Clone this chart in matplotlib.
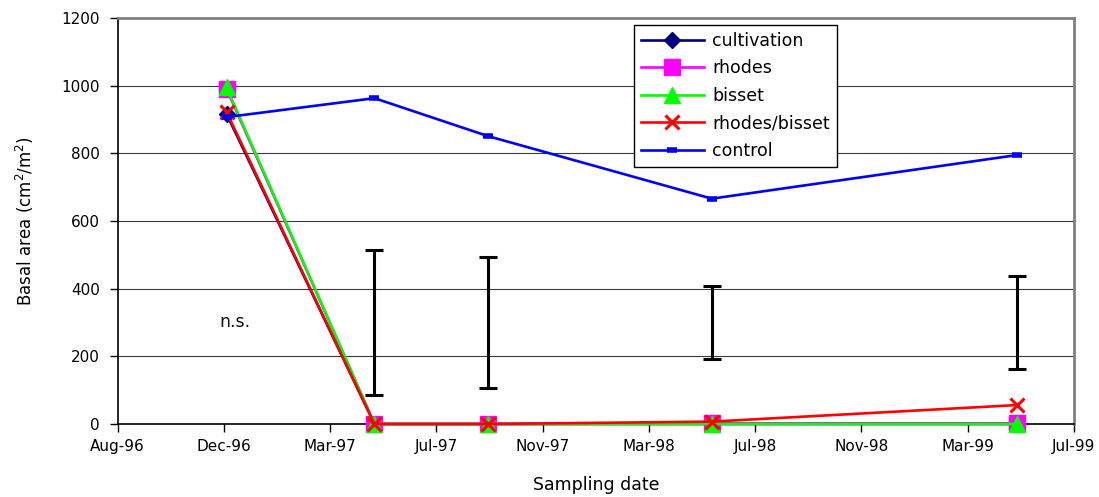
import numpy as np
import matplotlib
matplotlib.use("Agg")
import matplotlib.pyplot as plt
import matplotlib.dates as mdates

# ---- data ----
sample_dates = ["1996-12-03", "1997-05-19", "1997-09-24", "1998-06-04", "1999-05-15"]
cultivation = [916, 0, 0, 0, 0]
rhodes = [990, 0, 0, 2, 2]
bisset = [995, 0, 0, 0, 0]
rhodes_bisset = [922, 0, 0, 7, 56]
control = [907, 963, 851, 666, 795]

lsd_dates = ["1997-05-19", "1997-09-24", "1998-06-04", "1999-05-15"]
lsd_center = [300, 300, 300, 300]
lsd_half = [214, 195, 108, 137]

axis_start = "1996-08-02"
tick_step_days = 120
tick_labels = ["Aug-96", "Dec-96", "Mar-97", "Jul-97", "Nov-97",
               "Mar-98", "Jul-98", "Nov-98", "Mar-99", "Jul-99"]

plt.rcParams['font.family'] = ['DejaVu Sans']

x = mdates.datestr2num(sample_dates)
xl = mdates.datestr2num(lsd_dates)
x0 = mdates.datestr2num(axis_start)
ticks = x0 + tick_step_days * np.arange(len(tick_labels))

fig = plt.figure(figsize=(10.99, 4.97), dpi=100)
ax = fig.add_axes([0.1071, 0.1469, 0.8701, 0.8169])

ax.set_ylim(0, 1200)
ax.set_yticks(np.arange(0, 1201, 200))
ax.set_xlim(ticks[0], ticks[-1])
ax.set_xticks(ticks)
ax.set_xticklabels(tick_labels)
ax.yaxis.grid(True, color='#3a3a3a', lw=0.8)
ax.set_axisbelow(True)

lw = 1.9
common = dict(lw=lw, zorder=3, clip_on=False)
ax.plot(x, cultivation, color='#000080', marker='D', ms=8,
        mec='#000080', mfc='#000080', label='cultivation', **common)
ax.plot(x, rhodes, color='#FF00FF', marker='s', ms=11,
        mec='#FF00FF', mfc='#FF00FF', label='rhodes', **common)
ax.plot(x, bisset, color='#00FF00', marker='^', ms=12,
        mec='#00FF00', mfc='#00FF00', label='bisset', **common)
ax.plot(x, rhodes_bisset, color='#FF0000', marker='x', ms=10, mew=2.2,
        label='rhodes/bisset', **common)
ax.plot(x, control, color='#0000FF', marker='_', ms=7, mew=4,
        label='control', **common)

ax.errorbar(xl, lsd_center, yerr=lsd_half, fmt='none', ecolor='black',
            elinewidth=2.2, capsize=6.5, capthick=2.2, zorder=4)

ax.text(mdates.datestr2num("1996-12-12"), 300, "n.s.", fontsize=12.5,
        ha='center', va='center', color='#111111')

for s in ['left', 'bottom']:
    ax.spines[s].set_color('black')
    ax.spines[s].set_linewidth(1.2)
for s in ['top', 'right']:
    ax.spines[s].set_color('#808080')
    ax.spines[s].set_linewidth(2)

ax.tick_params(axis='both', direction='out', length=6, width=1,
               labelsize=11, colors='black')
ax.tick_params(axis='y', pad=7)
ax.tick_params(axis='x', pad=5)

ax.set_xlabel("Sampling date", fontsize=12.5, labelpad=16)
ax.set_ylabel("Basal area (cm$^2$/m$^2$)", fontsize=12, labelpad=18)

leg = ax.legend(loc='upper left', bbox_to_anchor=(0.540, 0.983),
                fontsize=12.5, frameon=True, fancybox=False, framealpha=1,
                edgecolor='black', handlelength=3.6, labelspacing=0.55,
                borderpad=0.4, handletextpad=0.5, borderaxespad=0)
leg.get_frame().set_linewidth(1.0)

fig.savefig("out.png", dpi=100)
